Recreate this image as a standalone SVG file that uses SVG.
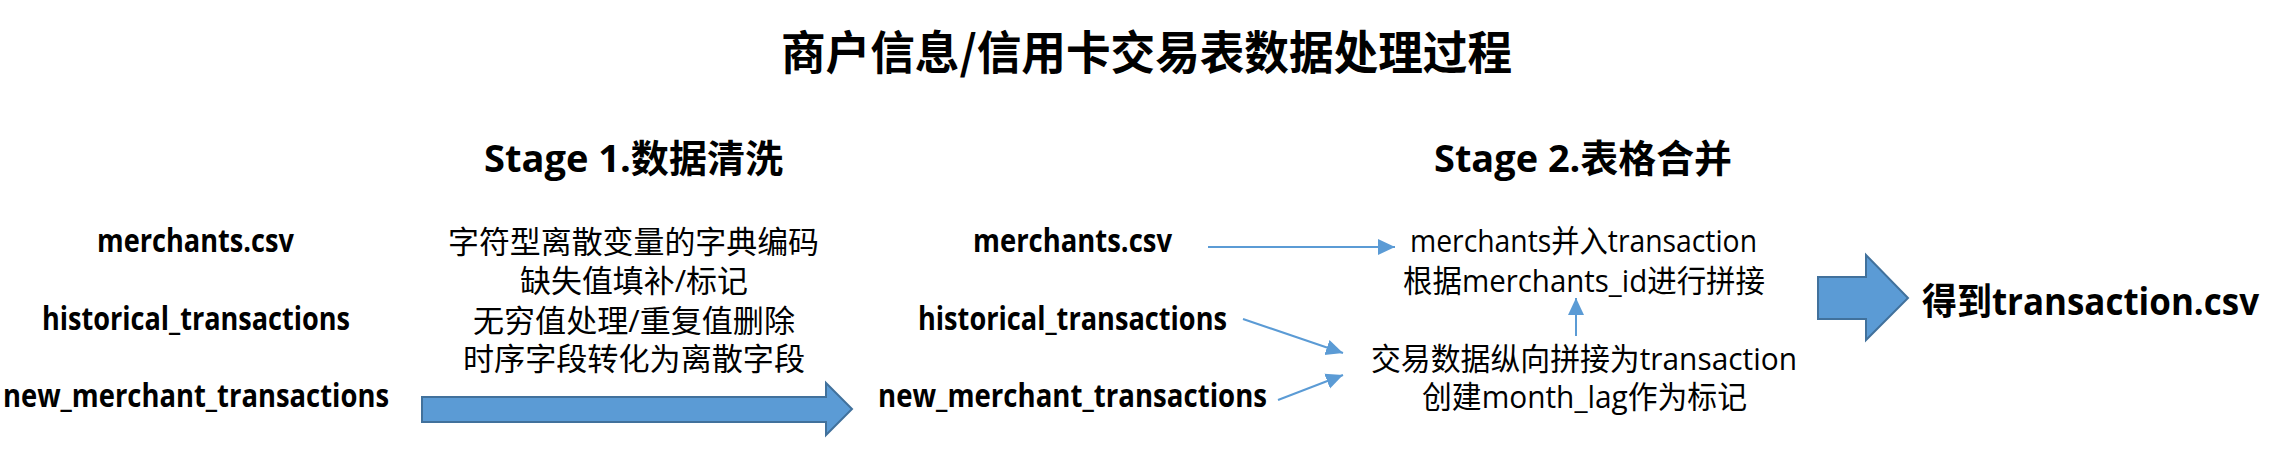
<svg xmlns="http://www.w3.org/2000/svg" width="2269" height="462" viewBox="0 0 2269 462">
<style>
  .t { font-family: "Open Sans", "Noto Sans CJK SC", sans-serif; fill: #000; }
  .cjk { font-family: "Noto Sans CJK SC", sans-serif; }
  .b { font-weight: bold; }
  .lbl { font-size: 33px; font-weight: bold; }
  .desc { font-size: 31px; }
  .stage { font-size: 38px; font-weight: bold; }
  .bigarrow { fill: #5B9BD5; stroke: #41719C; stroke-width: 2; stroke-linejoin: miter; }
  .conn { stroke: #5B9BD5; stroke-width: 2; fill: none; }
</style>
<defs>
  <marker id="ah" markerUnits="userSpaceOnUse" markerWidth="18" markerHeight="18" viewBox="0 0 18 18" refX="17" refY="9" orient="auto">
    <path d="M0,1 L17,9 L0,17 Z" fill="#5B9BD5"/>
  </marker>
</defs>
<rect width="2269" height="462" fill="#fff"/>

<g id="title">
  <text class="t cjk b" x="781" y="69" font-size="46" textLength="731" lengthAdjust="spacingAndGlyphs">商户信息/信用卡交易表数据处理过程</text>
</g>

<g id="stage1-title">
  <text class="t stage" x="484" y="172" textLength="299" lengthAdjust="spacingAndGlyphs">Stage 1.数据清洗</text>
</g>
<g id="stage2-title">
  <text class="t stage" x="1434" y="172" textLength="298" lengthAdjust="spacingAndGlyphs">Stage 2.表格合并</text>
</g>

<g id="src-merchants">
  <text class="t lbl" x="97" y="252" textLength="197" lengthAdjust="spacingAndGlyphs">merchants.csv</text>
</g>
<g id="src-historical">
  <text class="t lbl" x="42" y="330" textLength="308" lengthAdjust="spacingAndGlyphs">historical_transactions</text>
</g>
<g id="src-new">
  <text class="t lbl" x="3" y="407" textLength="386" lengthAdjust="spacingAndGlyphs">new_merchant_transactions</text>
</g>

<g id="cleaning-steps">
  <text class="t desc" x="448" y="253" textLength="371" lengthAdjust="spacingAndGlyphs">字符型离散变量的字典编码</text>
  <text class="t desc" x="520" y="292" textLength="228" lengthAdjust="spacingAndGlyphs">缺失值填补/标记</text>
  <text class="t desc" x="473" y="332" textLength="322" lengthAdjust="spacingAndGlyphs">无穷值处理/重复值删除</text>
  <text class="t desc" x="463" y="370" textLength="342" lengthAdjust="spacingAndGlyphs">时序字段转化为离散字段</text>
</g>

<g id="arrow-stage1">
  <polygon class="bigarrow" points="422,397 826,397 826,383 852,409 826,435 826,422 422,422"/>
</g>

<g id="clean-merchants">
  <text class="t lbl" x="973" y="252" textLength="199" lengthAdjust="spacingAndGlyphs">merchants.csv</text>
</g>
<g id="clean-historical">
  <text class="t lbl" x="918" y="330" textLength="309" lengthAdjust="spacingAndGlyphs">historical_transactions</text>
</g>
<g id="clean-new">
  <text class="t lbl" x="878" y="407" textLength="389" lengthAdjust="spacingAndGlyphs">new_merchant_transactions</text>
</g>

<g id="merge-merchants">
  <text class="t desc" x="1410" y="252" textLength="347" lengthAdjust="spacingAndGlyphs">merchants并入transaction</text>
  <text class="t desc" x="1403" y="292" textLength="362" lengthAdjust="spacingAndGlyphs">根据merchants_id进行拼接</text>
</g>
<g id="concat-transactions">
  <text class="t desc" x="1371" y="370" textLength="426" lengthAdjust="spacingAndGlyphs">交易数据纵向拼接为transaction</text>
  <text class="t desc" x="1422" y="408" textLength="325" lengthAdjust="spacingAndGlyphs">创建month_lag作为标记</text>
</g>

<g id="arrow-stage2">
  <polygon class="bigarrow" points="1818,277 1866,277 1866,255 1908,298 1866,340 1866,319 1818,319"/>
</g>

<g id="result">
  <text class="t b" transform="translate(1922 315) scale(0.88 1)" x="0" y="0" font-size="37" textLength="383" lengthAdjust="spacingAndGlyphs">得到transaction.csv</text>
</g>

<g id="connectors">
  <line class="conn" x1="1208" y1="247" x2="1395" y2="247" marker-end="url(#ah)"/>
  <line class="conn" x1="1243" y1="319" x2="1343" y2="353" marker-end="url(#ah)"/>
  <line class="conn" x1="1278" y1="400" x2="1343" y2="375" marker-end="url(#ah)"/>
  <line class="conn" x1="1576" y1="336" x2="1576" y2="298" marker-end="url(#ah)"/>
</g>
</svg>
